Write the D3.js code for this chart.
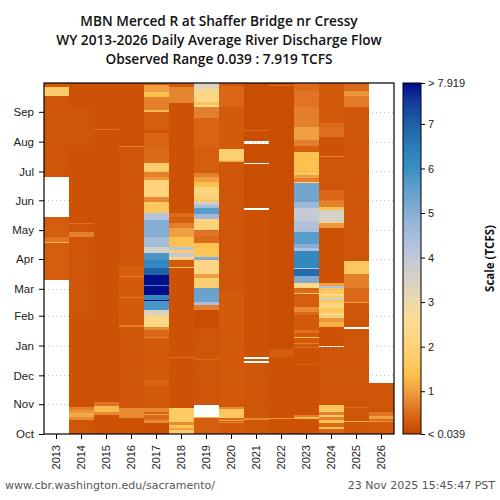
<!DOCTYPE html>
<html>
<head>
<meta charset="utf-8">
<script src="https://cdn.jsdelivr.net/npm/d3@7"></script>
<style>
body { margin: 0; background: #fff; }
</style>
</head>
<body>
<div id="chart"></div>
<script>
// Daily average flow heatmap, water years on x, day of water year on y

var years = [2013, 2014, 2015, 2016, 2017, 2018, 2019, 2020, 2021, 2022, 2023, 2024, 2025, 2026];
var months = ["Oct", "Nov", "Dec", "Jan", "Feb", "Mar", "Apr", "May", "Jun", "Jul", "Aug", "Sep"];
var monthStarts = [0, 31, 61, 92, 123, 151, 182, 212, 243, 273, 304, 335];
var titleLines = ["MBN Merced R at Shaffer Bridge nr Cressy",
  "WY 2013-2026 Daily Average River Discharge Flow",
  "Observed Range 0.039 : 7.919 TCFS"];
var flowMin = 0.039;
var flowMax = 7.919;
var scaleTicks = [flowMin, 1, 2, 3, 4, 5, 6, 7, flowMax];

// colour ramp (TCFS -> colour)
var colorStops = [0.039, 0.3, 0.6, 1.0, 1.4, 2.0, 2.6, 3.1, 3.6, 4.1, 4.8, 5.5, 6.0, 6.5, 7.0, 7.5, 7.919];
var colorRange = ["#c44400", "#d25a0a", "#e07424", "#f0a040", "#fdc24e", "#fdd27a", "#fddc92", "#e8d8b0",
  "#d2d0c8", "#bcc6de", "#94b4d8", "#64a0cc", "#3890c4", "#2a7cb8", "#2060a8", "#143c9c", "#000a8c"];

// [first day of water year (0 = Oct 1), flow TCFS]; each run lasts until the next one, null = no data
var wy2013 = [[0, null], [160, 0.35], [199, 1.3], [200, 0.6], [205, 0.35], [226, null], [267, 0.25], [352, 1.8], [361, 0.3]];
var wy2014 = [[0, 0.25], [15, 0.8], [18, 1.1], [22, 0.9], [25, 0.7], [28, 0.2], [120, 0.25], [205, 0.7], [210, 0.25],
  [218, 0.55], [219, 0.2], [300, 0.25], [340, 0.2]];
var wy2015 = [[0, 0.2], [20, 0.8], [23, 1.3], [29, 0.6], [33, 0.2], [316, 0.6], [317, 0.2]];
var wy2016 = [[0, 0.2], [17, 0.8], [27, 0.25], [111, 0.7], [113, 0.3], [141, 0.6], [142, 0.3], [163, 0.7], [164, 0.35],
  [175, 0.25], [298, 0.7], [299, 0.2]];
var wy2017 = [[0, 0.15], [11, 0.8], [15, 0.5], [20, 1.0], [21, 0.45], [23, 0.8], [27, 0.3], [50, 0.4], [56, 0.3],
  [100, 0.7], [101, 0.45], [108, 0.8], [111, 2.3], [124, 3.5], [129, 5.8], [138, 7.9], [139, 6.2], [145, 7.9],
  [154, 6.0], [155, 7.9], [165, 7.0], [173, 6.2], [181, 5.8], [188, 3.6], [194, 4.5], [205, 5.0], [223, 4.2],
  [230, 1.6], [241, 0.8], [246, 2.0], [264, 0.9], [267, 0.7], [272, 1.8], [282, 0.5], [298, 0.4], [313, 0.2],
  [316, 0.35], [335, 1.3], [337, 0.7], [350, 1.4], [356, 1.0], [363, 0.3]];
var wy2018 = [[0, 1.8], [4, 1.0], [6, 1.5], [9, 0.8], [12, 1.7], [27, 0.2], [79, 0.5], [80, 0.2], [173, 1.4], [174, 0.3],
  [181, 2.3], [184, 4.0], [188, 1.8], [191, 4.2], [194, 1.4], [205, 1.0], [214, 0.7], [219, 0.35], [226, 0.5],
  [230, 0.2], [344, 0.75], [361, 0.3]];
var wy2019 = [[0, 0.35], [17, 1.3], [18, null], [30, 0.25], [77, 0.5], [78, 0.25], [110, 0.15], [129, 0.7], [134, 4.4],
  [137, 5.4], [152, 1.9], [162, 1.0], [166, 2.3], [181, 5.0], [184, 1.5], [193, 1.4], [199, 0.5], [206, 0.6],
  [212, 2.0], [224, 4.6], [229, 5.6], [235, 4.5], [238, 3.8], [241, 1.8], [246, 2.1], [257, 1.4], [262, 1.0],
  [267, 0.7], [271, 0.35], [298, 0.4], [329, 0.7], [340, 2.5], [342, 1.5], [345, 2.3], [359, 3.4]];
var wy2020 = [[0, 0.3], [11, 0.8], [12, 0.3], [13, 1.2], [15, 0.5], [17, 1.6], [26, 0.8], [28, 0.3], [150, 0.25],
  [283, 1.0], [284, 1.9], [296, 0.3], [340, 0.45], [362, 0.3]];
var wy2021 = [[0, 0.25], [15, 0.8], [17, 0.25], [74, null], [76, 0.25], [78, null], [80, 0.2], [233, null], [235, 0.15],
  [281, null], [282, 0.15], [302, null], [305, 0.15], [315, 0.5], [316, 0.15]];
var wy2022 = [[0, 0.2], [16, 0.9], [17, 0.2], [80, 0.35], [88, 0.15], [362, 0.5], [363, 0.2]];
var wy2023 = [[0, 0.2], [16, 1.3], [18, 0.7], [20, 0.2], [72, 0.4], [73, 0.2], [89, 0.5], [90, 0.3], [94, 0.7], [95, 0.3],
  [100, 1.4], [101, 0.3], [105, 0.55], [108, 0.3], [124, 0.5], [127, 0.8], [132, 0.35], [146, 1.5], [147, 0.5],
  [152, 2.4], [157, 5.1], [164, 6.8], [172, 4.0], [173, 6.2], [190, 4.3], [193, 5.0], [198, 5.6], [210, 4.3],
  [222, 3.9], [235, 4.6], [241, 5.3], [261, 2.3], [262, 0.7], [266, 1.0], [269, 1.6], [274, 1.4], [293, 0.35],
  [299, 0.7], [306, 1.0], [319, 0.7], [340, 0.6], [357, 0.5]];
var wy2024 = [[0, 0.4], [5, 1.4], [7, 0.5], [11, 1.5], [15, 0.7], [18, 1.8], [20, 0.7], [23, 1.6], [30, 0.25], [90, null],
  [91, 0.2], [111, 1.2], [116, 0.9], [121, 2.2], [126, 1.6], [131, 2.2], [136, 1.6], [139, 3.7], [141, 1.7],
  [144, 2.3], [146, 1.7], [152, 4.4], [154, 1.0], [157, 0.2], [214, 0.9], [219, 2.3], [220, 3.5], [233, 1.4],
  [236, 0.7], [243, 0.45], [254, 0.25], [288, 0.7], [289, 0.2], [309, 0.55], [318, 0.5], [323, 0.3]];
var wy2025 = [[0, 0.25], [12, 1.2], [13, 0.25], [27, 0.5], [28, 0.25], [109, null], [111, 0.25], [136, 1.0], [137, 0.5],
  [152, 0.7], [166, 1.6], [180, 0.25], [340, 0.65], [352, 0.9], [357, 0.5], [364, 0.3]];
var wy2026 = [[0, 0.3], [12, 0.9], [14, 0.5], [16, 1.0], [19, 0.6], [23, 0.25], [53, null]];

var flows = [wy2013, wy2014, wy2015, wy2016, wy2017, wy2018, wy2019, wy2020, wy2021, wy2022, wy2023, wy2024, wy2025, wy2026];

var svgWidth = 500;
var svgHeight = 500;
var margin = {top: 83, right: 106, bottom: 66, left: 44};
var width = svgWidth - margin.left - margin.right;
var height = svgHeight - margin.top - margin.bottom;

var svg = d3.select("#chart")
  .append("svg")
  .attr("width", svgWidth)
  .attr("height", svgHeight)
  .style("font-family", "'DejaVu Sans', sans-serif");

svg.append("rect").attr("width", svgWidth).attr("height", svgHeight).attr("fill", "#fff");

var chartGroup = svg.append("g")
  .attr("transform", `translate(${margin.left}, ${margin.top})`);

var xScale = d3.scaleBand().domain(years).range([0, width]);
var yScale = d3.scaleLinear().domain([0, 365]).range([height, 0]);
var colorScale = d3.scaleLinear().domain(colorStops).range(colorRange).clamp(true);

// heatmap cells
flows.forEach(function(bands, i) {
  var cells = bands.map(function(b, j) {
    return {start: b[0], end: j < bands.length - 1 ? bands[j + 1][0] : 365, value: b[1]};
  }).filter(function(d) { return d.value !== null; });

  chartGroup.append("g")
    .selectAll("rect")
    .data(cells)
    .enter()
    .append("rect")
    .attr("x", xScale(years[i]))
    .attr("width", xScale.bandwidth())
    .attr("y", function(d) { return yScale(d.end); })
    .attr("height", function(d) { return yScale(d.start) - yScale(d.end); })
    .attr("fill", function(d) { return colorScale(d.value); })
    .attr("shape-rendering", "crispEdges");
});

// dotted month grid
chartGroup.append("g")
  .selectAll("line")
  .data(monthStarts.slice(1))
  .enter()
  .append("line")
  .attr("x1", 0)
  .attr("x2", width)
  .attr("y1", function(d) { return Math.round(yScale(d)) + 0.5; })
  .attr("y2", function(d) { return Math.round(yScale(d)) + 0.5; })
  .attr("stroke", "#555")
  .attr("stroke-opacity", 0.35)
  .attr("stroke-dasharray", "1,3");

var leftAxis = d3.axisLeft(yScale)
  .tickValues(monthStarts)
  .tickFormat(function(d, i) { return months[i]; })
  .tickSize(5);

var bottomAxis = d3.axisBottom(xScale).tickSize(5);

var yAxisG = chartGroup.append("g").call(leftAxis);
yAxisG.select(".domain").remove();
yAxisG.selectAll("text").attr("font-size", "11.5px").attr("fill", "#222").attr("x", -10);

var xAxisG = chartGroup.append("g")
  .attr("transform", `translate(0, ${height})`)
  .call(bottomAxis);
xAxisG.select(".domain").remove();
xAxisG.selectAll("text")
  .attr("font-size", "11px")
  .attr("fill", "#222")
  .attr("transform", "rotate(-90)")
  .attr("text-anchor", "end")
  .attr("x", -11)
  .attr("y", 0)
  .attr("dy", "0.35em");

chartGroup.append("rect")
  .attr("width", width)
  .attr("height", height)
  .attr("fill", "none")
  .attr("stroke", "#000")
  .attr("stroke-width", 1.2);

// colour bar
var cbX = 403, cbW = 18;
var cbScale = d3.scaleLinear().domain([flowMin, flowMax]).range([margin.top + height, margin.top]);

var grad = svg.append("defs").append("linearGradient")
  .attr("id", "cbgrad")
  .attr("x1", "0").attr("y1", "1").attr("x2", "0").attr("y2", "0");
grad.selectAll("stop")
  .data(colorStops)
  .enter()
  .append("stop")
  .attr("offset", function(d) { return (d - flowMin) / (flowMax - flowMin); })
  .attr("stop-color", function(d, i) { return colorRange[i]; });

svg.append("rect")
  .attr("x", cbX)
  .attr("y", margin.top)
  .attr("width", cbW)
  .attr("height", height)
  .attr("fill", "url(#cbgrad)")
  .attr("stroke", "#000")
  .attr("stroke-width", 1);

var cbAxis = d3.axisRight(cbScale)
  .tickValues(scaleTicks)
  .tickSize(4)
  .tickFormat(function(d) {
    if (d === flowMax) return "> " + flowMax;
    if (d === flowMin) return "< " + flowMin;
    return d;
  });

var cbG = svg.append("g")
  .attr("transform", `translate(${cbX + cbW}, 0)`)
  .call(cbAxis);
cbG.select(".domain").remove();
cbG.selectAll("text").attr("font-size", "11px").attr("fill", "#222");

svg.append("text")
  .attr("transform", `translate(494, ${margin.top + height / 2}) rotate(-90)`)
  .attr("text-anchor", "middle")
  .attr("font-family", "'Open Sans', sans-serif")
  .attr("font-weight", "bold")
  .attr("font-size", "11.5px")
  .attr("fill", "#111")
  .text("Scale (TCFS)");

// title
svg.append("g")
  .selectAll("text")
  .data(titleLines)
  .enter()
  .append("text")
  .attr("x", margin.left + width / 2)
  .attr("y", function(d, i) { return 26 + i * 19; })
  .attr("text-anchor", "middle")
  .attr("font-family", "'Open Sans', sans-serif")
  .attr("font-weight", "600")
  .attr("font-size", "13.7px")
  .attr("fill", "#111")
  .text(function(d) { return d; });

// footer
svg.append("text")
  .attr("x", 5)
  .attr("y", 489)
  .attr("font-size", "11px")
  .attr("fill", "#555")
  .text("www.cbr.washington.edu/sacramento/");

svg.append("text")
  .attr("x", 495)
  .attr("y", 489)
  .attr("text-anchor", "end")
  .attr("font-size", "11px")
  .attr("fill", "#555")
  .text("23 Nov 2025 15:45:47 PST");
</script>
</body>
</html>
